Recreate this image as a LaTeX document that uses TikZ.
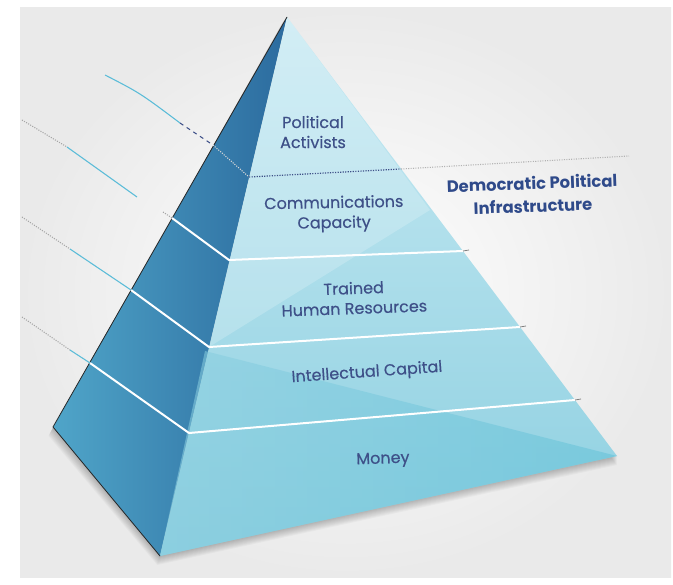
\documentclass[tikz,border=0pt]{standalone}
\usepackage{fontspec}
\newfontfamily\tierfont[FakeBold=0.4]{Poppins}
\newfontfamily\infrafont{Poppins}
\usetikzlibrary{calc}

\definecolor{navy}{HTML}{3E5088}
\definecolor{infranavy}{HTML}{2F4A8A}
\definecolor{leftlight}{HTML}{58B3D3}
\definecolor{leftdark}{HTML}{28659A}
\definecolor{frontlight}{HTML}{C8EAF3}
\definecolor{frontdark}{HTML}{8CCFE0}
\definecolor{facet}{HTML}{62C1D8}
\definecolor{cyanline}{HTML}{5BBCD8}
\definecolor{backgr}{HTML}{EAEAEA}

\begin{document}
\begin{tikzpicture}[x=0.75pt,y=-0.75pt]

\tikzset{tier/.style = {text=navy, font=\tierfont\fontsize{12}{15}\selectfont, align=center}}
\tikzset{infra/.style = {text=infranavy, font=\infrafont\bfseries\fontsize{12.3}{13.5}\selectfont, rotate=2, inner sep=0pt}}
\tikzset{layer/.style = {white, line width=1.5pt}}
\tikzset{leader/.style = {cyanline, line width=0.8pt}}
\tikzset{leadin/.style = {gray!70, densely dotted, line width=0.8pt}}
\tikzset{tick/.style = {gray, line width=0.6pt}}

%frame
\fill[white] (0,0) rectangle (673,584);
\shade[inner color=white, outer color=backgr] (20,8) rectangle (671,577);
\useasboundingbox (0,0) rectangle (673,584);

%corners
\coordinate (apex) at (287,17);
\coordinate (left) at (53,427);
\coordinate (front) at (160,556);
\coordinate (right) at (617,456);
%layer points: silhouette, ridge, right edge
\coordinate (s1) at (213,145); \coordinate (p1) at (249,177); \coordinate (q1) at (401,169);
\coordinate (s2) at (172,218); \coordinate (p2) at (229,260); \coordinate (q2) at (463,251);
\coordinate (s3) at (131,290); \coordinate (p3) at (209,347); \coordinate (q3) at (520,327);
\coordinate (s4) at (90,363);  \coordinate (p4) at (189,433); \coordinate (q4) at (575,400);

%shadow
\foreach \d in {1,...,9}
  \fill[black, opacity=0.028] ($(apex)+(-0.5*\d,0.6*\d)$) -- ($(left)+(-0.5*\d,\d)$)
    -- ($(front)+(-0.3*\d,\d)$) -- ($(right)+(0,\d)$) -- cycle;

%faces
\begin{scope}
  \clip (apex) -- (left) -- (front) -- cycle;
  \shade[left color=leftlight, right color=leftdark, rotate around={-13.3:(160,556)}]
    (15,-100) rectangle (161,650);
\end{scope}
\shade[top color=frontlight, bottom color=frontdark] (apex) -- (front) -- (right) -- cycle;
\fill[white, opacity=0.2] (apex) -- (p3) -- (430,210) -- cycle;
\shade[left color=frontdark, right color=facet, opacity=0.55] (205,351) -- (front) -- (right) -- cycle;
\draw[black!85, line width=0.6pt] (apex) -- (left) -- (front);

%layers
\draw[layer] (s2) -- (p2) -- (q2);
\draw[layer] (s3) -- (p3) -- (q3);
\draw[layer] (s4) -- (p4) -- (q4);
\draw[white!70!gray, densely dotted, line width=0.8pt] (s1) -- (p1);
\draw[navy, densely dotted, line width=0.9pt] (p1) -- (q1);
\draw[gray!60, densely dotted, line width=0.8pt] (q1) -- (629,156);

%leaders
\draw[leader] (105,75) .. controls (140,93) .. (180,123);
\draw[navy, dashed, line width=0.8pt] (180,123) -- (s1);
\draw[leadin] (22,120) -- (67,147);
\draw[leader] (67,147) -- (137,197);
\draw[leadin] (163,212) -- (s2);
\draw[leadin] (22,217) -- (70,249);
\draw[leader] (70,249) -- (s3);
\draw[leadin] (22,317) -- (70,350);
\draw[leader] (70,350) -- (s4);
\draw[tick] (q2) -- ++(6,-1);
\draw[tick] (q3) -- ++(6,-1);
\draw[tick] (q4) -- ++(6,-1);

%labels
\node[tier] (activists) at (313,132) {Political\\Activists};
\node[tier, rotate=1] (comms) at (334,214) {Communications\\Capacity};
\node[tier, rotate=2] (trained) at (354,298) {Trained\\Human Resources};
\node[tier, rotate=4] (capital) at (367,373) {Intellectual Capital};
\node[tier, rotate=2] (money) at (383,460) {Money};
\node[infra] (infra) at (532,183) {Democratic Political};
\node[infra] (infra2) at (533,206) {Infrastructure};

\end{tikzpicture}
\end{document}
